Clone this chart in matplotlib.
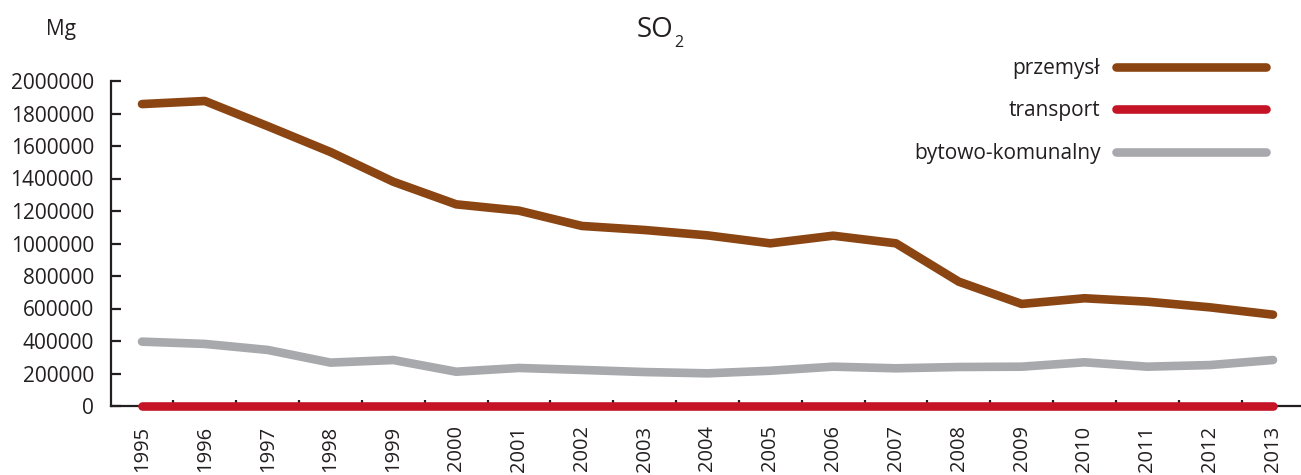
import matplotlib
matplotlib.use("Agg")
import matplotlib.pyplot as plt
from matplotlib.ticker import FixedLocator, NullFormatter

plt.rcParams['font.family'] = ['Open Sans', 'DejaVu Sans']

years = [str(y) for y in range(1995, 2014)]
przemysl = [1858000, 1877000, 1722000, 1563000, 1380000, 1241000, 1202000,
            1108000, 1083000, 1050000, 1001000, 1048000, 1001000, 765000,
            628000, 663000, 642000, 607000, 562000]
transport = [0] * 19
bytowo = [396000, 382000, 345000, 267000, 283000, 211000, 234000, 222000,
          209000, 201000, 217000, 242000, 232000, 240000, 242000, 269000,
          242000, 252000, 283000]
y_ticks = list(range(0, 2000001, 200000))

series = [
    ("przemysł", przemysl, "#8b4513"),
    ("transport", transport, "#c41426"),
    ("bytowo-komunalny", bytowo, "#a7a9ac"),
]

ink = "#231f20"
W, H = 1301, 475
fig = plt.figure(figsize=(W / 100, H / 100), dpi=100)
ax = fig.add_axes([110.6 / W, 69 / H, 1193.8 / W, 325 / H])

x = range(len(years))
for label, vals, color in series:
    ax.plot(x, vals, color=color, lw=6.2, solid_capstyle="round",
            solid_joinstyle="round", clip_on=False, label=label, zorder=3)

ax.set_xlim(-0.5, len(years) - 0.5)
ax.set_ylim(0, 2000000)

ax.set_yticks(y_ticks)
ax.set_yticklabels([str(v) for v in y_ticks])
ax.set_xticks(list(x))
ax.set_xticklabels(years, rotation=90)
ax.xaxis.set_minor_locator(FixedLocator([i + 0.5 for i in range(len(years) - 1)]))
ax.xaxis.set_minor_formatter(NullFormatter())

ax.tick_params(axis="y", direction="in", length=7, width=1.6, color=ink,
               labelsize=15, labelcolor=ink, pad=12)
ax.tick_params(axis="x", which="major", length=0, labelsize=14.5,
               labelcolor=ink, pad=14)
ax.tick_params(axis="x", which="minor", direction="in", length=4.5,
               width=1.6, color=ink)

for side in ("top", "right"):
    ax.spines[side].set_visible(False)
for side in ("left", "bottom"):
    ax.spines[side].set_color(ink)
    ax.spines[side].set_linewidth(1.6)

fig.text(61 / W, 1 - 30 / H, "Mg", ha="center", va="center",
         fontsize=15, color=ink)
fig.text(637 / W, 1 - 37 / H, "SO", ha="left", va="baseline",
         fontsize=20, color=ink)
fig.text(674.5 / W, 1 - 47 / H, "2", ha="left", va="baseline",
         fontsize=11.5, color=ink)

leg = ax.legend(loc="upper right", bbox_to_anchor=(1266 / W, 1 - 58 / H),
                bbox_transform=fig.transFigure, frameon=False,
                markerfirst=False, fontsize=15, handlelength=7.2,
                handletextpad=0.75, labelspacing=1.03, borderpad=0,
                borderaxespad=0)
for t in leg.get_texts():
    t.set_color(ink)

fig.savefig("out.png", dpi=100)
